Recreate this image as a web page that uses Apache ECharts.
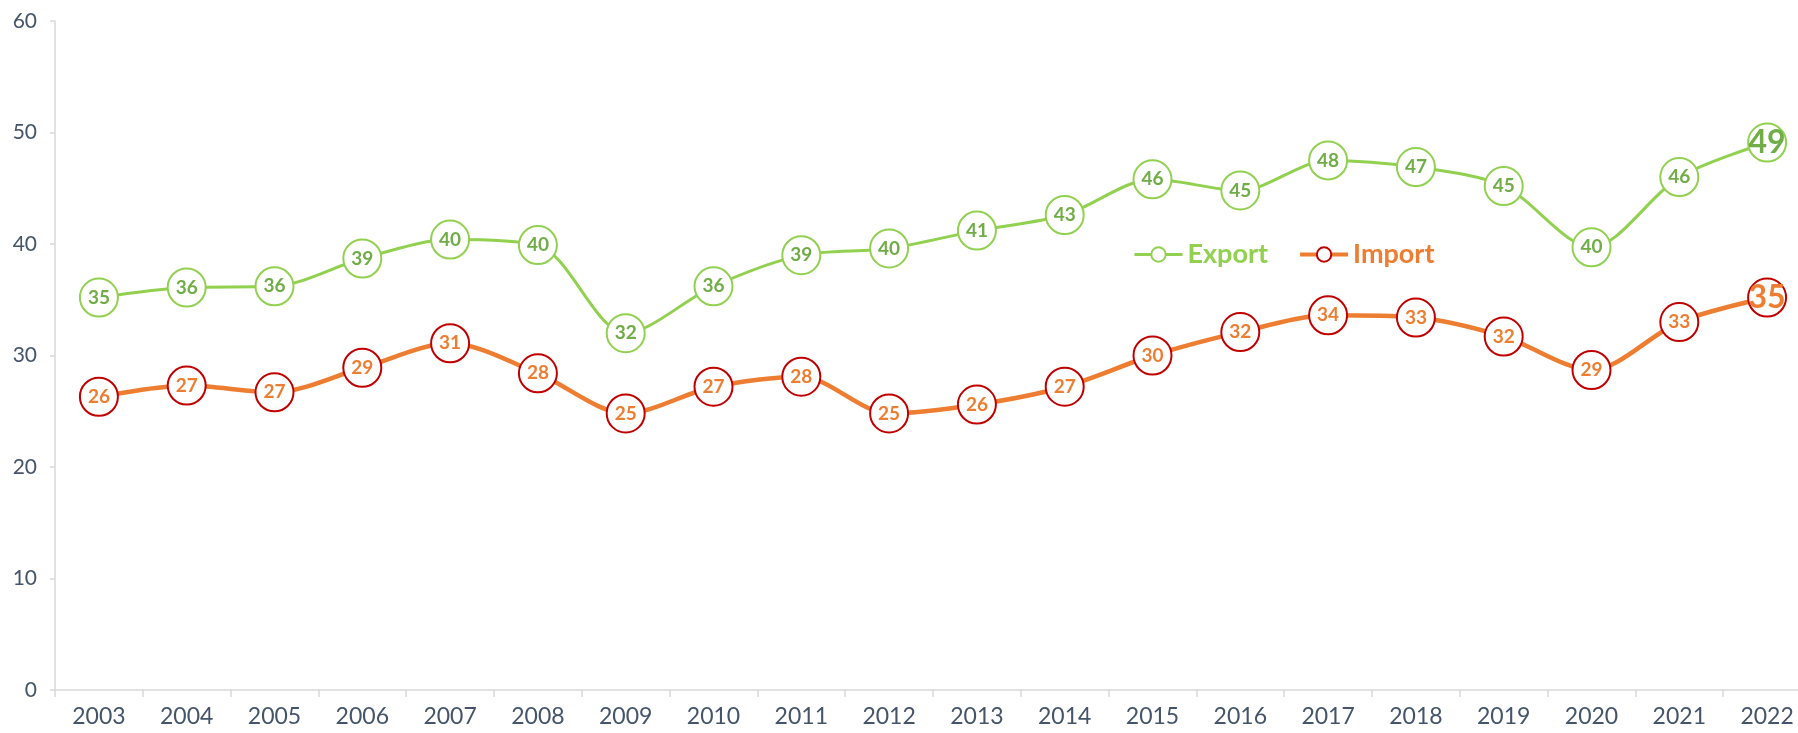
<!DOCTYPE html>
<html>
<head>
<meta charset="utf-8">
<script src="https://cdn.jsdelivr.net/npm/echarts@6.0.0/dist/echarts.min.js"></script>
<style>
    html, body { margin: 0; padding: 0; background: #fff; }
    #chart { width: 1798px; height: 733px; }
</style>
</head>
<body>
<div id="chart"></div>
<script>
// 数据
var years = ['2003','2004','2005','2006','2007','2008','2009','2010','2011','2012',
             '2013','2014','2015','2016','2017','2018','2019','2020','2021','2022'];
var exportValues = [35.2, 36.1, 36.2, 38.7, 40.4, 39.9, 32.0, 36.2, 39.0, 39.6,
                    41.2, 42.6, 45.8, 44.8, 47.5, 46.9, 45.2, 39.7, 46.0, 49.1];
var importValues = [26.3, 27.3, 26.7, 28.9, 31.1, 28.4, 24.8, 27.2, 28.1, 24.8,
                    25.6, 27.2, 30.0, 32.1, 33.6, 33.4, 31.7, 28.7, 33.0, 35.2];
var yTicks = [0, 60, 10];   // min, max, interval

// 最后一个点的标签放大
function withBigLast(arr) {
    return arr.map(function (v, i) {
        if (i === arr.length - 1) {
            return { value: v, label: { fontSize: 32 } };
        }
        return v;
    });
}

var myChart = echarts.init(document.getElementById('chart'));

var option = {
    animation: false,
    textStyle: { fontFamily: 'Lato' },
    legend: {
        left: 1128,
        top: 236,
        itemWidth: 48,
        itemHeight: 18,
        itemGap: 30,
        textStyle: { fontSize: 27, fontWeight: 'bold', fontFamily: 'Lato' },
        data: [
            { name: 'Export', textStyle: { color: '#92D050' }, lineStyle: { width: 3 } },
            { name: 'Import', textStyle: { color: '#ED7D31' }, lineStyle: { width: 4 } }
        ]
    },
    grid: {
        left: 55,
        top: 21,
        width: 1756,
        bottom: 43,
        outerBoundsMode: 'none'
    },
    xAxis: {
        type: 'category',
        data: years,
        boundaryGap: true,
        axisLine: { lineStyle: { color: '#D9D9D9', width: 1.5 } },
        axisTick: { show: true, length: 7, lineStyle: { color: '#D9D9D9', width: 1.5 } },
        axisLabel: { color: '#44546A', fontSize: 23, margin: 15, interval: 0 }
    },
    yAxis: {
        type: 'value',
        min: yTicks[0],
        max: yTicks[1],
        interval: yTicks[2],
        splitLine: { show: false },
        axisLine: { show: true, lineStyle: { color: '#D9D9D9', width: 1.5 } },
        axisTick: { show: true, length: 5, lineStyle: { color: '#D9D9D9', width: 1.5 } },
        axisLabel: { color: '#44546A', fontSize: 21, margin: 18 }
    },
    series: [
        {
            name: 'Export',
            type: 'line',
            smooth: 0.3,
            data: withBigLast(exportValues),
            symbol: 'circle',
            symbolSize: 38,
            lineStyle: { color: '#92D050', width: 3 },
            itemStyle: { color: '#fff', borderColor: '#92D050', borderWidth: 2 },
            label: {
                show: true,
                position: 'inside',
                color: '#70AD47',
                fontSize: 19,
                fontWeight: 'bold',
                formatter: function (p) { return Math.round(p.value); }
            }
        },
        {
            name: 'Import',
            type: 'line',
            smooth: 0.3,
            data: withBigLast(importValues),
            symbol: 'circle',
            symbolSize: 38,
            lineStyle: { color: '#ED7D31', width: 4.5 },
            itemStyle: { color: '#fff', borderColor: '#C00000', borderWidth: 2 },
            label: {
                show: true,
                position: 'inside',
                color: '#ED7D31',
                fontSize: 19,
                fontWeight: 'bold',
                formatter: function (p) { return Math.round(p.value); }
            }
        }
    ]
};

myChart.setOption(option);
</script>
</body>
</html>
